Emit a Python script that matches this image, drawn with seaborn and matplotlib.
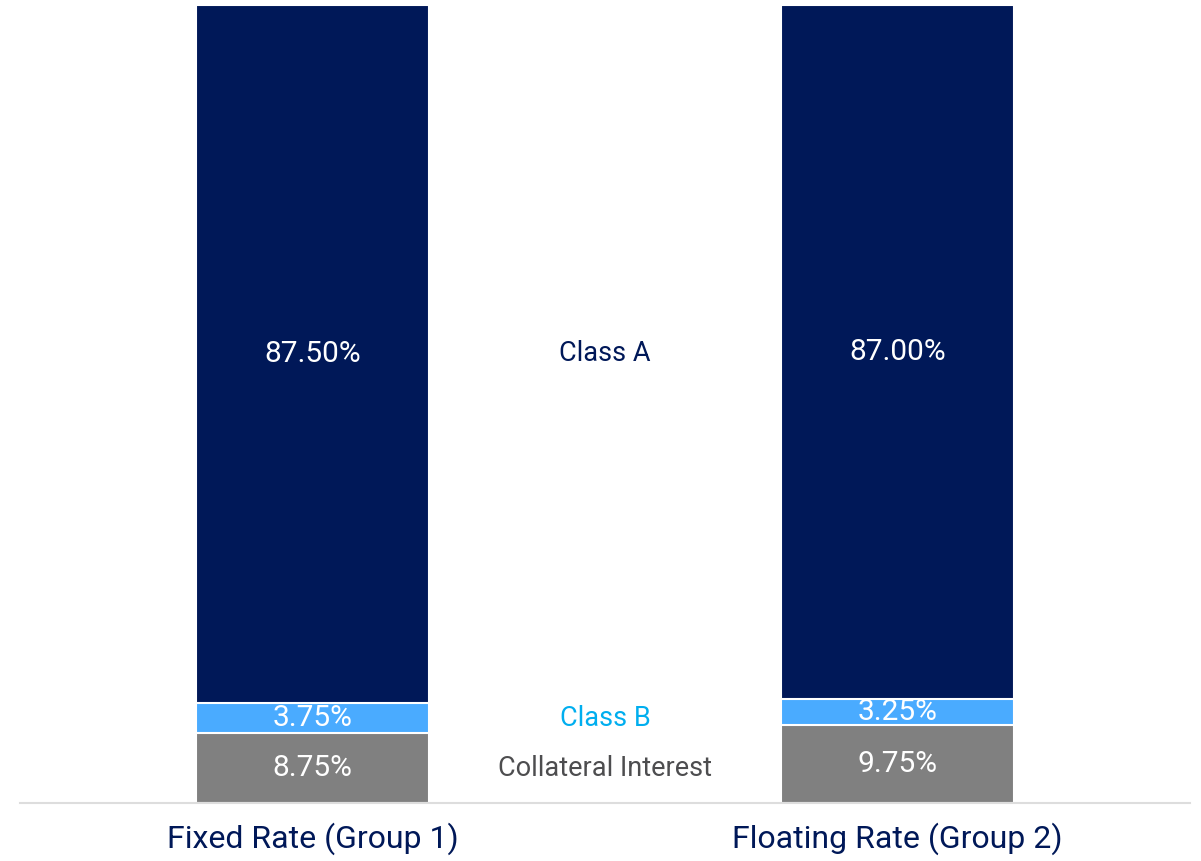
import matplotlib
matplotlib.use("Agg")
import matplotlib.pyplot as plt
import seaborn as sns
import pandas as pd

# --- data ---
groups = ["Fixed Rate (Group 1)", "Floating Rate (Group 2)"]
class_a = [87.50, 87.00]
class_b = [3.75, 3.25]
collateral = [8.75, 9.75]

series_names = ["Class A", "Class B", "Collateral Interest"]
colors = {"Class A": "#001858", "Class B": "#4aabff", "Collateral Interest": "#808080"}
label_colors = {"Class A": "#001858", "Class B": "#00aeef", "Collateral Interest": "#4d4d4f"}

sns.set_theme(style="white")
plt.rcParams["font.family"] = ["Roboto", "DejaVu Sans"]

fig = plt.figure(figsize=(12.01, 8.61), dpi=100)
ax = fig.add_axes([20 / 1201, 1 - 803 / 861, 1170 / 1201, 798 / 861])

# stacked: draw cumulative totals top-down so each segment overlaps the next
df = pd.DataFrame({"group": groups, "Class A": class_a, "Class B": class_b,
                   "Collateral Interest": collateral})
df["top_b"] = df["Class B"] + df["Collateral Interest"]
df["top_a"] = df["Class A"] + df["top_b"]

for col, key in [("top_a", "Class A"), ("top_b", "Class B"), ("Collateral Interest", "Collateral Interest")]:
    sns.barplot(data=df, x="group", y=col, color=colors[key], width=0.397,
                edgecolor="white", linewidth=1.5, ax=ax, saturation=1)

# segment value labels
for i in range(len(groups)):
    c = collateral[i]
    b = class_b[i]
    a = class_a[i]
    ax.text(i, c / 2, f"{c:.2f}%", ha="center", va="center", color="white", fontsize=21.5)
    ax.text(i, c + b / 2, f"{b:.2f}%", ha="center", va="center", color="white", fontsize=21.5)
    ax.text(i, c + b + a / 2, f"{a:.2f}%", ha="center", va="center", color="white", fontsize=21.5)

# series labels between the bars (aligned with the first bar's segments)
mid_a = sum(collateral[i] + class_b[i] + class_a[i] / 2 for i in range(2)) / 2
mid_b = collateral[0] + class_b[0] / 2
mid_c = collateral[0] / 2
for name, yv in zip(series_names, [mid_a, mid_b, mid_c]):
    ax.text(0.5, yv, name, ha="center", va="center", color=label_colors[name], fontsize=19.5)

ax.set_xlim(-0.5, 1.5)
ax.set_ylim(0, 100)
ax.set_xlabel("")
ax.set_ylabel("")
ax.set_yticks([])
ax.tick_params(axis="x", length=0, pad=14, labelsize=23, labelcolor="#001858")
for s in ["top", "left", "right"]:
    ax.spines[s].set_visible(False)
ax.spines["bottom"].set_color("#dddddd")
ax.spines["bottom"].set_linewidth(1.5)

fig.savefig("out.png", dpi=100)
